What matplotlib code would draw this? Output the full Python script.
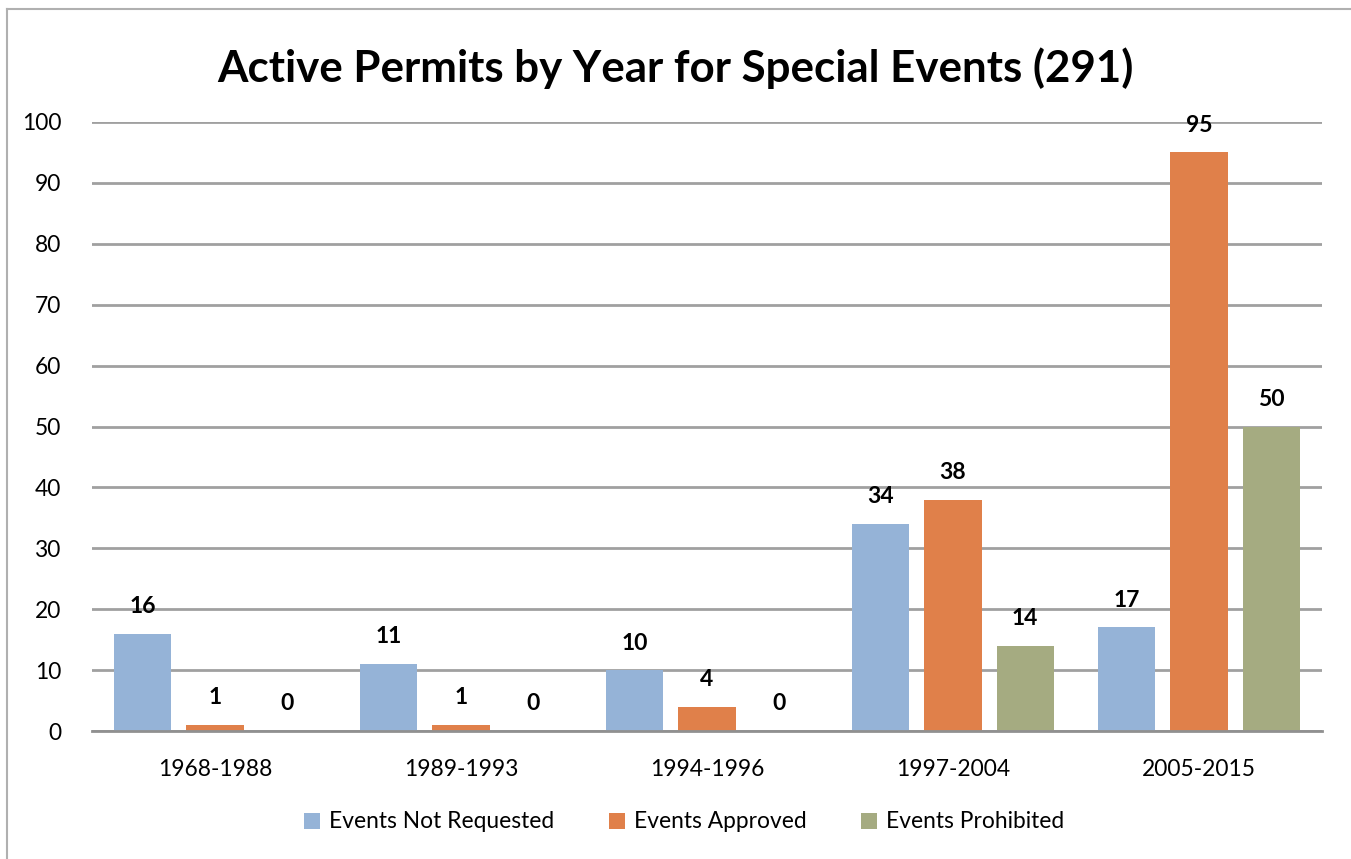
import numpy as np
import matplotlib.pyplot as plt
from matplotlib.lines import Line2D

plt.rcParams['font.family'] = ['Lato', 'DejaVu Sans']

periods = ['1968-1988', '1989-1993', '1994-1996', '1997-2004', '2005-2015']
not_requested = [16, 11, 10, 34, 17]
approved = [1, 1, 4, 38, 95]
prohibited = [0, 0, 0, 14, 50]
series_names = ['Events Not Requested', 'Events Approved', 'Events Prohibited']
colors = ['#95B3D7', '#E0804A', '#A5AB81']

fig = plt.figure(figsize=(13.51, 8.59), dpi=100)
ax = fig.add_axes([92/1351, 128/859, 1230/1351, 609/859])

x = np.arange(len(periods))
step = 0.293
width = 0.232
for j, (vals, name, c) in enumerate(zip([not_requested, approved, prohibited], series_names, colors)):
    pos = x + (j - 1) * step
    ax.bar(pos, vals, width, color=c, label=name, zorder=3)
    for p, v in zip(pos, vals):
        ax.annotate(str(v), (p, v), xytext=(0, 19.5), textcoords='offset points',
                    ha='center', va='center', fontsize=16.5, fontweight='bold', zorder=4)

ax.set_xlim(-0.5, 4.5)
ax.set_ylim(0, 100)
ax.set_yticks(np.arange(0, 101, 10))
ax.set_xticks(x)
ax.set_xticklabels(periods)
ax.tick_params(length=0, labelsize=16.4)
ax.tick_params(axis='x', pad=20)
ax.tick_params(axis='y', pad=22)
ax.yaxis.grid(True, color='#A0A0A0', linewidth=2, zorder=0)
for s in ['top', 'right', 'left']:
    ax.spines[s].set_visible(False)
ax.spines['bottom'].set_color('#909090')
ax.spines['bottom'].set_linewidth(2)
ax.spines['bottom'].set_zorder(5)

fig.text(0.5, 1 - 68/859, 'Active Permits by Year for Special Events (291)',
         ha='center', va='center', fontsize=31.6, fontweight='bold')

fig.legend(loc='center', bbox_to_anchor=(684/1351, 1 - 822/859), ncol=3,
           frameon=False, fontsize=16.4, handlelength=0.7, handleheight=0.7,
           handletextpad=0.4, columnspacing=2.4)

# chart border (top and left edges visible)
fig.add_artist(Line2D([7/1351, 7/1351], [0, 1 - 9/859], transform=fig.transFigure, color='#B0B0B0', lw=1.5))
fig.add_artist(Line2D([7/1351, 1], [1 - 9/859, 1 - 9/859], transform=fig.transFigure, color='#B0B0B0', lw=1.5))

fig.savefig('out.png', dpi=100)
